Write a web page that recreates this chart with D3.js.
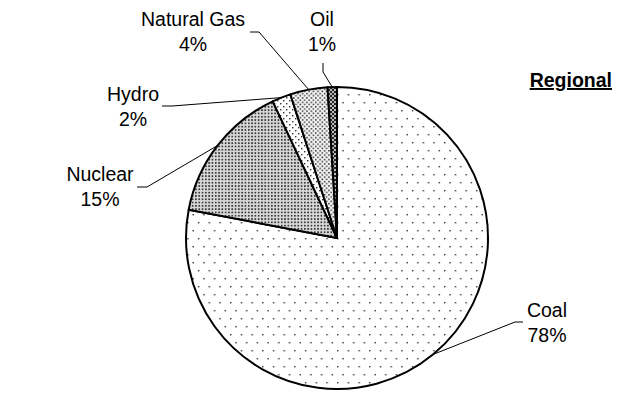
<!DOCTYPE html>
<html>
<head>
    <title>Regional</title>
    <script src="https://d3js.org/d3.v7.min.js"></script>
    <style>
        body { margin: 0; background: #fff; }
        text { font-family: "Liberation Sans", Arial, sans-serif; font-size: 19.5px; fill: #000; }
        .title { font-weight: bold; text-decoration: underline; }
    </style>
</head>
<body>
<svg width="629" height="402"></svg>
<script>
    var sources = ["Coal", "Nuclear", "Hydro", "Natural Gas", "Oil"];
    var shares = [78, 15, 2, 4, 1];
    var pctLabels = ["78%", "15%", "2%", "4%", "1%"];

    // where each label sits and where its leader bends
    var labelPos = [
        {x: 547, y: 317, lx: 523, ly: 322, bx: 515},
        {x: 100, y: 181, lx: 137, ly: 187, bx: 147},
        {x: 133, y: 101, lx: 162, ly: 106, bx: 172},
        {x: 193, y: 26,  lx: 250, ly: 32,  bx: 259},
        {x: 322, y: 26,  lx: 323, ly: 63,  bx: 323, by: 72}
    ];

    var svg = d3.select("svg"),
        cx = 337, cy = 238, r = 151;

    var defs = svg.append("defs");

    function dots(id, w, h, pts, size, col, bg) {
        var p = defs.append("pattern").attr("id", id)
            .attr("patternUnits", "userSpaceOnUse")
            .attr("width", w).attr("height", h);
        p.append("rect").attr("width", w).attr("height", h).attr("fill", bg || "#fff");
        pts.forEach(function (q) {
            p.append("rect").attr("x", q[0]).attr("y", q[1])
                .attr("width", size).attr("height", size).attr("fill", col);
        });
    }
    dots("pCoal", 10.7, 16, [[0, 0], [5.35, 8]], 1.4, "#333");
    dots("pNuclear", 3.3, 3.3, [[0, 0]], 1.7, "#3a3a3a", "#d8d8d8");
    dots("pHydro", 6, 6, [[0, 0], [3, 3]], 1.4, "#333");
    dots("pGas", 4.4, 4.4, [[0, 0], [2.2, 2.2]], 1.5, "#333", "#f4f4f4");

    var oil = defs.append("pattern").attr("id", "pOil")
        .attr("patternUnits", "userSpaceOnUse").attr("width", 4).attr("height", 4);
    oil.append("rect").attr("width", 4).attr("height", 4).attr("fill", "#bbb");
    oil.append("path").attr("d", "M0,0L4,4M4,0L0,4").attr("stroke", "#222").attr("stroke-width", 1);

    var fills = ["url(#pCoal)", "url(#pNuclear)", "url(#pHydro)", "url(#pGas)", "url(#pOil)"];

    var pie = d3.pie().sort(null).value(function (d) { return d; });
    var arcs = pie(shares);

    var arc = d3.arc().innerRadius(0).outerRadius(r);
    var edge = d3.arc().innerRadius(r).outerRadius(r);

    var g = svg.append("g").attr("transform", "translate(" + cx + "," + cy + ")");

    g.selectAll("path.slice").data(arcs).enter().append("path")
        .attr("class", "slice")
        .attr("d", arc)
        .attr("fill", function (d, i) { return fills[i]; })
        .attr("stroke", "#000")
        .attr("stroke-width", 2)
        .attr("stroke-linejoin", "round");

    // leader lines
    svg.selectAll("polyline").data(arcs).enter().append("polyline")
        .attr("fill", "none")
        .attr("stroke", "#000")
        .attr("stroke-width", 1)
        .attr("points", function (d, i) {
            var lp = labelPos[i], c = edge.centroid(d);
            var by = lp.by !== undefined ? lp.by : lp.ly;
            return [[lp.lx, lp.ly], [lp.bx, by], [cx + c[0], cy + c[1]]].join(" ");
        });

    var lab = svg.selectAll("text.lab").data(sources).enter().append("text")
        .attr("class", "lab")
        .attr("text-anchor", "middle")
        .attr("x", function (d, i) { return labelPos[i].x; })
        .attr("y", function (d, i) { return labelPos[i].y; });
    lab.append("tspan").text(function (d) { return d; });
    lab.append("tspan")
        .attr("x", function (d, i) { return labelPos[i].x; })
        .attr("dy", 25)
        .text(function (d, i) { return pctLabels[i]; });

    svg.append("text").attr("class", "title")
        .attr("x", 612).attr("y", 87)
        .attr("text-anchor", "end")
        .text("Regional");
</script>
</body>
</html>
